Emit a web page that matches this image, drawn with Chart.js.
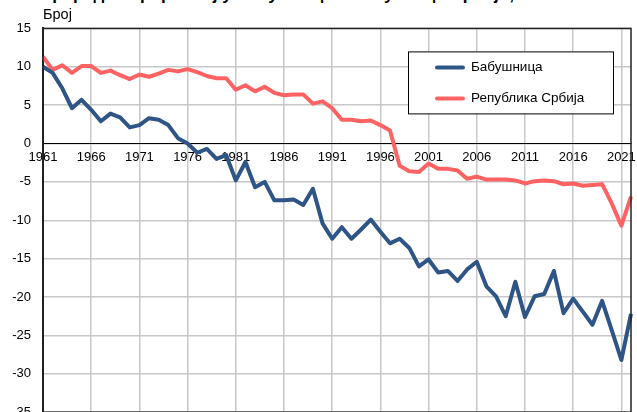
<!DOCTYPE html>
<html>
<head>
<meta charset="utf-8">
<script src="https://cdn.jsdelivr.net/npm/chart.js@4"></script>
<style>
  html, body { margin: 0; padding: 0; background: #fff; overflow: hidden; }
  #wrap { position: relative; width: 637px; height: 412px; overflow: hidden; }
  #heading {
    position: absolute; left: 40px; top: -15px; margin: 0;
    font: bold 17px "Liberation Sans", Arial, sans-serif; color: #000; white-space: nowrap;
  }
  canvas { position: absolute; left: 0; top: 0; }
</style>
</head>
<body>
<div id="wrap">
  <h1 id="heading">Природни прираштај у Бабушници и Републици Србији, 1961–2022</h1>
  <canvas id="graph" width="637" height="432"></canvas>
</div>
<script>
// years on the x axis
var years = [];
for (var y = 1961; y <= 2022; y++) years.push(String(y));

// natural increase, Babušnica
var babusnica = [
  10.0, 9.2, 7.2, 4.6, 5.7, 4.4, 2.9, 3.9, 3.4, 2.1,
  2.4, 3.3, 3.1, 2.4, 0.7, 0.0, -1.2, -0.7, -2.0, -1.5,
  -4.8, -2.4, -5.7, -5.0, -7.4, -7.4, -7.3, -8.0, -5.9, -10.4,
  -12.4, -10.9, -12.4, -11.2, -9.9, -11.5, -13.0, -12.4, -13.6, -16.0,
  -15.1, -16.8, -16.6, -17.9, -16.4, -15.4, -18.6, -19.9, -22.5, -18.0,
  -22.6, -19.9, -19.6, -16.6, -22.1, -20.2, -21.9, -23.6, -20.5, -24.3,
  -28.2, -22.2
];

// natural increase, Republic of Serbia
var srbija = [
  11.3, 9.6, 10.2, 9.2, 10.1, 10.1, 9.2, 9.5, 8.9, 8.4,
  9.0, 8.7, 9.1, 9.6, 9.4, 9.7, 9.3, 8.8, 8.5, 8.5,
  7.0, 7.6, 6.8, 7.4, 6.6, 6.3, 6.4, 6.4, 5.2, 5.5,
  4.6, 3.1, 3.1, 2.9, 3.0, 2.4, 1.7, -2.9, -3.6, -3.7,
  -2.6, -3.3, -3.3, -3.5, -4.6, -4.3, -4.7, -4.7, -4.7, -4.8,
  -5.2, -4.9, -4.8, -4.9, -5.3, -5.2, -5.5, -5.4, -5.3, -7.8,
  -10.7, -6.9
];

var seriesNames = ["Бабушница", "Република Србија"];
var seriesColors = ["#2e5586", "#ff6262"];

var font = "'Liberation Sans', Arial, sans-serif";

// frame round the plot and the legend box inside it
var framePlugin = {
  id: "frame",
  afterDraw: function (chart) {
    var c = chart.ctx, a = chart.chartArea;
    c.save();
    c.strokeStyle = "#222";
    c.lineWidth = 1.5;
    c.strokeRect(a.left, a.top, a.right - a.left, a.bottom - a.top);

    var bx = a.right - 223, by = a.top + 23, bw = 205, bh = 62;
    c.fillStyle = "#fff";
    c.fillRect(bx, by, bw, bh);
    c.strokeStyle = "#000";
    c.lineWidth = 1;
    c.strokeRect(bx + 0.5, by + 0.5, bw, bh);

    chart.data.datasets.forEach(function (ds, i) {
      var ly = by + 16 + i * 31;
      c.strokeStyle = ds.borderColor;
      c.lineWidth = 4;
      c.lineCap = "round";
      c.beginPath();
      c.moveTo(bx + 29, ly);
      c.lineTo(bx + 55, ly);
      c.stroke();
      c.fillStyle = "#000";
      c.font = "13.5px " + font;
      c.textBaseline = "middle";
      c.fillText(ds.label, bx + 63, ly);
    });
    c.restore();
  }
};

var graph = new Chart(document.getElementById("graph"), {
  type: "line",
  data: {
    labels: years,
    datasets: [
      {
        label: seriesNames[0],
        data: babusnica,
        borderColor: seriesColors[0],
        backgroundColor: seriesColors[0],
        borderWidth: 4,
        pointRadius: 0,
        borderJoinStyle: "round",
        tension: 0,
      },
      {
        label: seriesNames[1],
        data: srbija,
        borderColor: seriesColors[1],
        backgroundColor: seriesColors[1],
        borderWidth: 4,
        pointRadius: 0,
        borderJoinStyle: "round",
        tension: 0,
      },
    ],
  },
  options: {
    responsive: false,
    animation: false,
    layout: {
      padding: { left: 0, right: 6, top: 0, bottom: 0 },
    },
    plugins: {
      legend: { display: false },
      tooltip: { enabled: false },
      title: {
        display: true,
        text: "Број",
        align: "start",
        fullSize: false,
        color: "#000",
        font: { family: font, size: 14.5, weight: "normal" },
        padding: { top: 6, bottom: 5 },
      },
    },
    scales: {
      x: {
        type: "category",
        position: { y: 0 },
        offset: false,
        grid: {
          color: function (ctx) {
            return ctx.index % 5 === 0 ? "#c8c8c8" : "rgba(0,0,0,0)";
          },
          lineWidth: 1.5,
          drawTicks: false,
        },
        border: { color: "#000", width: 1 },
        ticks: {
          autoSkip: false,
          maxRotation: 0,
          padding: 6,
          color: "#000",
          font: { family: font, size: 13 },
          callback: function (v, i) {
            return i % 5 === 0 ? years[i] : "";
          },
        },
      },
      y: {
        min: -35,
        max: 15,
        afterFit: function (scale) { scale.width = 43; },
        grid: { color: "#c8c8c8", lineWidth: 1.5, drawTicks: false },
        border: { color: "#222", width: 2 },
        ticks: {
          stepSize: 5,
          padding: 12,
          color: "#000",
          font: { family: font, size: 13 },
        },
      },
    },
  },
  plugins: [framePlugin],
});
</script>
</body>
</html>
